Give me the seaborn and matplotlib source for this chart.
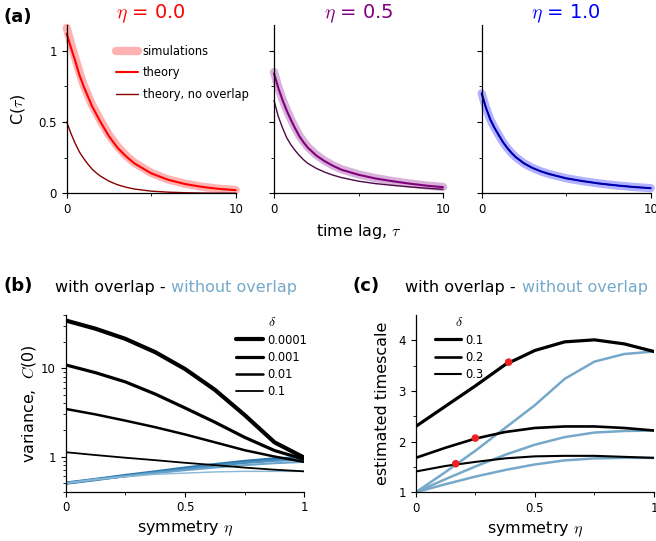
import matplotlib
matplotlib.use("Agg")
import matplotlib.pyplot as plt
import matplotlib.ticker as mticker
import seaborn as sns

# ---- panel (a): autocorrelation vs time lag
tau = [0, 0.25, 0.5, 0.75, 1, 1.25, 1.5, 1.75, 2, 2.5, 3, 3.5, 4, 5, 6, 7, 8, 9, 10]

sim_eta00 = [1.16, 1.05, 0.95, 0.85, 0.76, 0.69, 0.62, 0.565, 0.51, 0.41, 0.33, 0.265, 0.215, 0.143, 0.097, 0.067, 0.046, 0.032, 0.023]
th_eta00 = [1.12, 1.02, 0.93, 0.83, 0.75, 0.68, 0.61, 0.555, 0.50, 0.40, 0.32, 0.26, 0.21, 0.14, 0.095, 0.065, 0.045, 0.031, 0.022]
nov_eta00 = [0.5, 0.42, 0.35, 0.29, 0.245, 0.205, 0.17, 0.143, 0.12, 0.085, 0.06, 0.043, 0.03, 0.015, 0.008, 0.004, 0.002, 0.001, 0.0005]

sim_eta05 = [0.85, 0.745, 0.66, 0.585, 0.52, 0.46, 0.405, 0.362, 0.325, 0.27, 0.228, 0.195, 0.168, 0.132, 0.106, 0.086, 0.069, 0.055, 0.044]
th_eta05 = [0.84, 0.74, 0.655, 0.58, 0.515, 0.455, 0.40, 0.357, 0.32, 0.265, 0.225, 0.192, 0.165, 0.13, 0.104, 0.085, 0.068, 0.054, 0.043]
nov_eta05 = [0.65, 0.54, 0.46, 0.39, 0.34, 0.30, 0.265, 0.235, 0.21, 0.175, 0.148, 0.127, 0.11, 0.085, 0.068, 0.056, 0.045, 0.036, 0.028]

sim_eta10 = [0.70, 0.60, 0.52, 0.46, 0.41, 0.36, 0.32, 0.285, 0.255, 0.21, 0.178, 0.154, 0.135, 0.105, 0.085, 0.068, 0.055, 0.044, 0.036]
th_eta10 = [0.70, 0.60, 0.52, 0.46, 0.41, 0.36, 0.32, 0.285, 0.255, 0.21, 0.178, 0.154, 0.135, 0.105, 0.085, 0.068, 0.055, 0.044, 0.036]
nov_eta10 = [0.70, 0.60, 0.52, 0.46, 0.41, 0.36, 0.32, 0.285, 0.255, 0.21, 0.178, 0.154, 0.135, 0.105, 0.085, 0.068, 0.055, 0.044, 0.036]

eta_titles = ["0.0", "0.5", "1.0"]

# ---- panel (b): variance vs symmetry
eta = [0, 0.125, 0.25, 0.375, 0.5, 0.625, 0.75, 0.875, 1]
delta_b = ["0.0001", "0.001", "0.01", "0.1"]
var_with = [
    [34.7, 28.0, 21.5, 15.2, 9.8, 5.7, 2.95, 1.45, 0.97],
    [10.9, 8.9, 7.0, 5.1, 3.55, 2.45, 1.65, 1.17, 0.93],
    [3.46, 3.0, 2.55, 2.15, 1.78, 1.45, 1.18, 1.0, 0.87],
    [1.12, 1.04, 0.97, 0.91, 0.85, 0.80, 0.75, 0.71, 0.68],
]
var_without = [
    [0.5, 0.55, 0.61, 0.67, 0.74, 0.81, 0.88, 0.94, 0.97],
    [0.5, 0.55, 0.60, 0.66, 0.72, 0.79, 0.85, 0.90, 0.93],
    [0.5, 0.55, 0.60, 0.65, 0.70, 0.75, 0.80, 0.84, 0.87],
    [0.5, 0.55, 0.59, 0.63, 0.65, 0.67, 0.68, 0.68, 0.68],
]

# ---- panel (c): estimated timescale vs symmetry
delta_c = ["0.1", "0.2", "0.3"]
ts_with = [
    [2.30, 2.70, 3.10, 3.52, 3.80, 3.97, 4.01, 3.93, 3.78],
    [1.68, 1.88, 2.06, 2.19, 2.27, 2.30, 2.30, 2.27, 2.22],
    [1.41, 1.52, 1.60, 1.67, 1.71, 1.72, 1.72, 1.70, 1.68],
]
ts_without = [
    [1.0, 1.40, 1.82, 2.27, 2.72, 3.24, 3.58, 3.73, 3.78],
    [1.0, 1.26, 1.51, 1.74, 1.94, 2.09, 2.18, 2.21, 2.22],
    [1.0, 1.16, 1.31, 1.44, 1.55, 1.63, 1.67, 1.68, 1.68],
]
dot_eta = [0.39, 0.25, 0.168]
dot_ts = [3.57, 2.07, 1.565]

sns.set_style("ticks")
plt.rcParams["font.family"] = ["DejaVu Sans"]
plt.rcParams["mathtext.fontset"] = "cm"
plt.rcParams["axes.linewidth"] = 0.9
plt.rcParams["axes.edgecolor"] = "black"
plt.rcParams["axes.labelcolor"] = "black"
plt.rcParams["text.color"] = "black"
plt.rcParams["xtick.color"] = "black"
plt.rcParams["ytick.color"] = "black"
plt.rcParams["xtick.major.size"] = 3.5
plt.rcParams["ytick.major.size"] = 3.5
plt.rcParams["xtick.minor.size"] = 2.5
plt.rcParams["ytick.minor.size"] = 2.5
plt.rcParams["xtick.labelsize"] = 8.5
plt.rcParams["ytick.labelsize"] = 8.5

fig = plt.figure(figsize=(6.56, 5.41), dpi=100)

without_col = "#76a9c9"

# ---------------- panel (a)
a_lefts = [0.1017, 0.4177, 0.7343]
main_cols = ["red", "purple", "blue"]
dark_cols = ["#8b0000", "#4b0a45", "#00008b"]
sims = [sim_eta00, sim_eta05, sim_eta10]
ths = [th_eta00, th_eta05, th_eta10]
novs = [nov_eta00, nov_eta05, nov_eta10]

axes_a = []
for i in range(3):
    ax = fig.add_axes([a_lefts[i], 0.6427, 0.2576, 0.3111])
    axes_a.append(ax)
    sns.lineplot(x=tau, y=sims[i], ax=ax, color=main_cols[i], alpha=0.3, linewidth=6,
                 solid_capstyle="round", clip_on=False, label="simulations" if i == 0 else None)
    sns.lineplot(x=tau, y=ths[i], ax=ax, color=main_cols[i], linewidth=1.5,
                 clip_on=False, label="theory" if i == 0 else None)
    sns.lineplot(x=tau, y=novs[i], ax=ax, color=dark_cols[i], linewidth=1.0,
                 clip_on=False, label="theory, no overlap" if i == 0 else None)
    ax.set_xlim(0, 10)
    ax.set_ylim(0, 1.18)
    ax.set_xticks([0, 10], ["0", "10"])
    ax.set_xticks([5], minor=True)
    ax.set_yticks([0, 0.5, 1], ["0", "0.5", "1"])
    ax.set_yticks([0.25, 0.75], minor=True)
    if i > 0:
        ax.tick_params(axis="y", labelleft=False)
    ax.set_title(r"$\eta$ = " + eta_titles[i], color=main_cols[i], fontsize=14, pad=3)
    sns.despine(ax=ax)

axes_a[0].set_ylabel(r"C($\tau$)", fontsize=11.5, labelpad=8)
axes_a[1].set_xlabel(r"time lag, $\tau$", fontsize=11.5, labelpad=4)
axes_a[0].legend(loc="upper left", bbox_to_anchor=(0.256, 0.915), frameon=False,
                 fontsize=8.3, borderpad=0, labelspacing=0.72, handlelength=1.9,
                 handletextpad=0.45)
for ax in axes_a[1:]:
    if ax.get_legend() is not None:
        ax.get_legend().remove()

# ---------------- panel (b)
axb = fig.add_axes([0.1002, 0.0911, 0.3637, 0.3266])
b_widths = [3.0, 2.3, 1.8, 1.3]
b_blues = ["#2a78ad", "#4a8fbf", "#6aa3c9", "#8ab8d6"]
for k in range(4):
    sns.lineplot(x=eta, y=var_without[k], ax=axb, color=b_blues[k], linewidth=b_widths[k] * 0.8)
for k in range(4):
    sns.lineplot(x=eta, y=var_with[k], ax=axb, color="black", linewidth=b_widths[k],
                 label=delta_b[k])
axb.set_yscale("log")
axb.set_xlim(0, 1)
axb.set_ylim(0.4, 40)
axb.set_xticks([0, 0.5, 1], ["0", "0.5", "1"])
axb.set_xticks([0.25, 0.75], minor=True)
axb.yaxis.set_major_locator(mticker.FixedLocator([1, 10]))
axb.yaxis.set_major_formatter(mticker.FixedFormatter(["1", "10"]))
axb.yaxis.set_minor_locator(mticker.LogLocator(base=10, subs=range(2, 10), numticks=20))
axb.yaxis.set_minor_formatter(mticker.NullFormatter())
axb.set_xlabel(r"symmetry $\eta$", fontsize=11.5, labelpad=3)
axb.set_ylabel(r"variance,  $C$(0)", fontsize=11.5, labelpad=2)
axb.legend(loc="upper right", bbox_to_anchor=(1.035, 1.03), frameon=False,
           title=r"$\delta$", fontsize=8.3, title_fontsize=10, borderpad=0,
           labelspacing=0.35, handlelength=2.3, handletextpad=0.35)
sns.despine(ax=axb)

# ---------------- panel (c)
axc = fig.add_axes([0.6337, 0.0900, 0.3633, 0.3277])
c_widths = [2.3, 1.9, 1.5]
for k in range(3):
    sns.lineplot(x=eta, y=ts_without[k], ax=axc, color=without_col, linewidth=1.8)
for k in range(3):
    sns.lineplot(x=eta, y=ts_with[k], ax=axc, color="black", linewidth=c_widths[k],
                 label=delta_c[k])
sns.scatterplot(x=dot_eta, y=dot_ts, ax=axc, color="#ee2222", s=30, edgecolor="none",
                zorder=5, legend=False)
axc.set_xlim(0, 1)
axc.set_ylim(1, 4.5)
axc.set_xticks([0, 0.5, 1], ["0", "0.5", "1"])
axc.set_xticks([0.25, 0.75], minor=True)
axc.set_yticks([1, 2, 3, 4], ["1", "2", "3", "4"])
axc.set_yticks([1.5, 2.5, 3.5], minor=True)
axc.set_xlabel(r"symmetry $\eta$", fontsize=11.5, labelpad=3)
axc.set_ylabel("estimated timescale", fontsize=11.5, labelpad=6)
axc.legend(loc="upper left", bbox_to_anchor=(0.055, 1.03), frameon=False,
           title=r"$\delta$", fontsize=8.3, title_fontsize=10, borderpad=0,
           labelspacing=0.35, handlelength=2.3, handletextpad=0.35)
sns.despine(ax=axc)

# ---------------- panel labels and titles
fig.text(0.006, 0.985, "(a)", fontsize=13, fontweight="bold", va="top")
fig.text(0.006, 0.488, "(b)", fontsize=13, fontweight="bold", va="top")
fig.text(0.537, 0.488, "(c)", fontsize=13, fontweight="bold", va="top")

title_y = 1 - 292 / 541
fig.text(55 / 656, title_y, "with overlap -", fontsize=11.5, ha="left", va="baseline")
fig.text(171 / 656, title_y, "without overlap", fontsize=11.5, ha="left", va="baseline",
         color=without_col)
fig.text(405 / 656, title_y, "with overlap -", fontsize=11.5, ha="left", va="baseline")
fig.text(522 / 656, title_y, "without overlap", fontsize=11.5, ha="left", va="baseline",
         color=without_col)

fig.savefig("out.png", dpi=100)
